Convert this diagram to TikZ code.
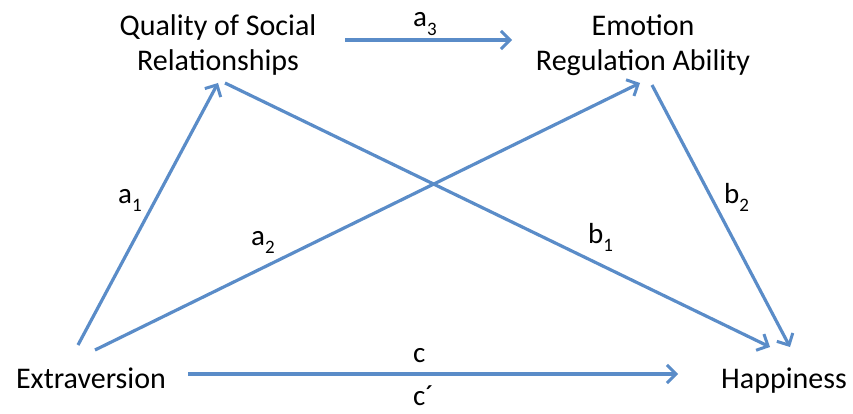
\documentclass[tikz,border=0pt]{standalone}
\usepackage{fontspec}
\setmainfont{Carlito}
\usetikzlibrary{arrows.meta}
\definecolor{arrblue}{RGB}{90,140,200}
\newcommand\subs[1]{\raisebox{-0.28em}{\fontsize{19}{19}\selectfont #1}}
\tikzset{
  lbl/.style={font=\fontsize{30}{35}\selectfont, inner sep=0pt, align=center},
  pathlbl/.style={font=\fontsize{29}{35}\selectfont, inner sep=0pt, anchor=base west},
  arr/.style={draw=arrblue, line width=3.2pt, -{Straight Barb[length=9pt,width=18pt,line width=3pt]}}
}
\begin{document}
\begin{tikzpicture}[x=1pt,y=-1pt]
\useasboundingbox (0,0) rectangle (853,414);
\node[lbl] (qsr) at (218,45) {Quality of Social\\Relationships};
\node[lbl] (era) at (643,45) {Emotion\\Regulation Ability};
\node[lbl, anchor=base] (ext) at (91,388) {Extraversion};
\node[lbl, anchor=base] (hap) at (784,388) {Happiness};

\draw[arr] ([shift={(-13,-43)}]ext.base) -- ([shift={(0,38)}]qsr.center);
\draw[arr] ([shift={(4,-38)}]ext.base) -- ([shift={(-3,38)}]era.center);
\draw[arr] ([shift={(127,-5)}]qsr.center) -- ([shift={(-131,-5)}]era.center);
\draw[arr] ([shift={(7,38)}]qsr.center) -- ([shift={(-14,-41)}]hap.base);
\draw[arr] ([shift={(9,40)}]era.center) -- ([shift={(6,-41)}]hap.base);
\draw[arr] ([shift={(97,-14)}]ext.base) -- ([shift={(-106,-14)}]hap.base);

\node[pathlbl] (la3) at (413,27) {a\subs{3}};
\node[pathlbl] (la1) at (118,203) {a\subs{1}};
\node[pathlbl] (la2) at (251,245) {a\subs{2}};
\node[pathlbl] (lb1) at (588,243) {b\subs{1}};
\node[pathlbl] (lb2) at (724,203) {b\subs{2}};
\node[pathlbl] (lc) at (413,362) {c};
\node[pathlbl] (lcp) at (413,405) {c´};
\end{tikzpicture}
\end{document}
